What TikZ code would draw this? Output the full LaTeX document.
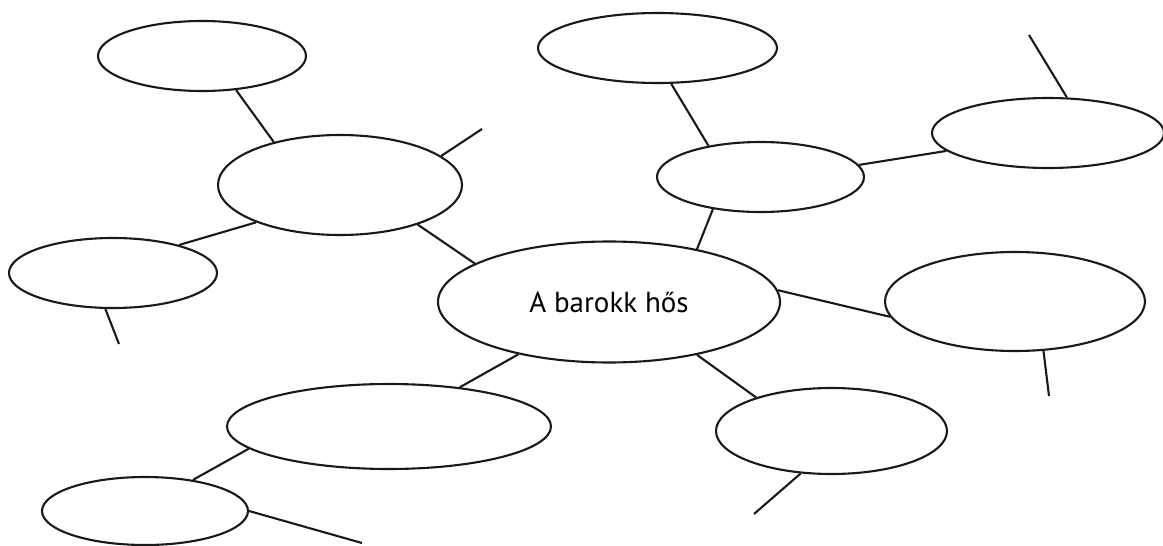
\documentclass[tikz,border=0pt]{standalone}
\usepackage{fontspec}
\setmainfont{PT Sans}
\usetikzlibrary{shapes.geometric}

\tikzset{
  bubble/.style n args={2}{ellipse, draw=black!90, line width=2.1pt, fill=white,
    inner sep=0pt, minimum width=#1, minimum height=#2},
  link/.style={draw=black!90, line width=2.1pt}
}

\begin{document}
\begin{tikzpicture}[x=1pt, y=-1pt]
  \useasboundingbox (0,0) rectangle (1163,546);

  % mind-map bubbles
  \node[bubble={342pt}{121pt}, font=\fontsize{29}{33}\selectfont] (hero) at (609,302) {A barokk hős};
  \node[bubble={208pt}{70pt}]  (tl)  at (202,56)    {};
  \node[bubble={244pt}{100pt}] (lm)  at (340,185)   {};
  \node[bubble={208pt}{70pt}]  (ll)  at (113,273)   {};
  \node[bubble={239pt}{70pt}]  (tc)  at (657.5,48)  {};
  \node[bubble={207pt}{70pt}]  (mr)  at (760.5,177) {};
  \node[bubble={232pt}{70pt}]  (tr)  at (1048,133)  {};
  \node[bubble={260pt}{99pt}]  (rm)  at (1015,301.5){};
  \node[bubble={324pt}{85pt}]  (bc)  at (389,426.5) {};
  \node[bubble={231pt}{86pt}]  (br)  at (831.5,431) {};
  \node[bubble={206pt}{68pt}]  (bl)  at (145,511)   {};

  % loose ends for further ideas
  \coordinate (lmEnd) at (482,129);
  \coordinate (llEnd) at (119,344);
  \coordinate (trEnd) at (1029,35);
  \coordinate (rmEnd) at (1049,396);
  \coordinate (brEnd) at (754,514);
  \coordinate (blEnd) at (362,543);

  % connectors
  \draw[link] (tl.-45)    -- (lm.147.5);
  \draw[link] (lm.16.7)   -- (lmEnd);
  \draw[link] (lm.204.9)  -- (ll.23.3);
  \draw[link] (ll.258.7)  -- (llEnd);
  \draw[link] (lm.333.4)  -- (hero.164.6);
  \draw[link] (tc.291.9)  -- (mr.149.9);
  \draw[link] (mr.214)    -- (hero.31.5);
  \draw[link] (mr.7.4)    -- (tr.190.2);
  \draw[link] (tr.62.8)   -- (trEnd);
  \draw[link] (hero.4.4)  -- (rm.187.1);
  \draw[link] (rm.300.9)  -- (rmEnd);
  \draw[link] (hero.329.7)-- (br.156.1);
  \draw[link] (br.234)    -- (brEnd);
  \draw[link] (hero.210.6)-- (bc.29.4);
  \draw[link] (bc.189.2)  -- (bl.33.4);
  \draw[link] (bl.east)   -- (blEnd);
\end{tikzpicture}
\end{document}
